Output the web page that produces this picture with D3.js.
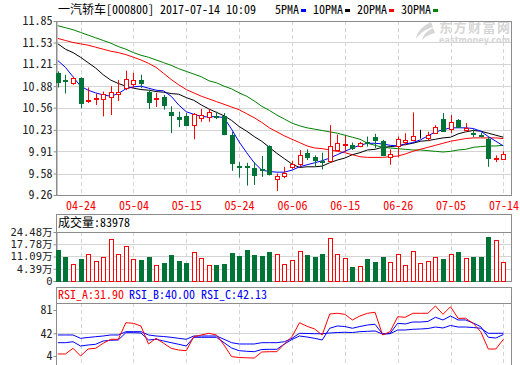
<!DOCTYPE html>
<html>
<head>
<meta charset="utf-8">
<script src="https://cdn.jsdelivr.net/npm/d3@7"></script>
<style>
  body { margin: 0; background: #fff; }
  text { font-family: "Noto Sans Mono CJK SC", "DejaVu Sans Mono", monospace; font-size: 12px; }
</style>
</head>
<body>
<script>
const dates = [
  "04-19","04-20","04-21","04-24","04-25","04-26","04-27","04-28",
  "05-02","05-03","05-04","05-05","05-08","05-09","05-10","05-11","05-12","05-15","05-16","05-17",
  "05-18","05-19","05-22","05-23","05-24","05-25","05-26","05-31",
  "06-01","06-02","06-05","06-06","06-07","06-08","06-09","06-12","06-13","06-14","06-15","06-16",
  "06-19","06-20","06-21","06-22","06-23","06-26","06-27","06-28","06-29","06-30",
  "07-03","07-04","07-05","07-06","07-07","07-10","07-11","07-12","07-13","07-14"
];
const xTicks = ["04-24","05-04","05-15","05-24","06-06","06-15","06-26","07-05","07-14"];
const priceTicks = [11.85, 11.53, 11.21, 10.88, 10.56, 10.23, 9.91, 9.58, 9.26];
const volTicks = [24.48, 17.78, 11.09, 4.39];
const volTickLabels = ["24.48万", "17.78万", "11.09万", "4.39万", "0"];
const rsiTicks = [81, 42, 4];

const open = [11.08,10.97,10.92,11.00,10.66,10.69,10.70,10.73,10.77,10.85,
  10.91,10.97,10.80,10.70,10.72,10.50,10.42,10.43,10.31,10.40,
  10.41,10.44,10.43,10.15,9.69,9.69,9.66,9.64,9.99,9.51,
  9.55,9.67,9.71,9.88,9.82,9.77,9.77,9.93,10.01,10.01,
  9.98,10.05,10.13,10.06,9.82,9.98,10.05,10.08,10.15,10.12,
  10.18,10.39,10.24,10.38,10.23,10.19,10.15,10.10,9.80,9.79];
const close = [10.95,10.95,11.00,10.63,10.68,10.70,10.77,10.80,10.80,10.98,
  10.97,10.93,10.65,10.71,10.60,10.45,10.39,10.30,10.47,10.45,
  10.49,10.43,10.16,9.73,9.68,9.68,9.56,9.63,9.58,9.55,
  9.59,9.72,9.85,9.82,9.77,9.76,9.99,10.03,10.02,9.96,
  10.03,10.03,10.08,9.85,9.87,10.09,10.08,10.14,10.15,10.16,
  10.27,10.21,10.34,10.28,10.26,10.18,10.13,9.82,9.81,9.87];
const high = [11.10,11.05,11.02,11.01,10.86,10.77,10.80,10.88,10.97,11.11,
  11.08,11.05,10.83,10.78,10.75,10.58,10.50,10.48,10.48,10.54,
  10.54,10.50,10.48,10.20,9.75,9.74,9.75,9.84,10.00,9.58,
  9.68,9.77,9.93,9.94,9.85,9.89,10.30,10.16,10.14,10.04,
  10.05,10.13,10.17,10.08,9.94,10.13,10.18,10.49,10.23,10.20,
  10.30,10.48,10.45,10.39,10.33,10.24,10.19,10.13,9.85,9.91];
const low = [10.86,10.77,10.90,10.55,10.63,10.60,10.43,10.45,10.66,10.82,
  10.85,10.85,10.54,10.57,10.53,10.18,10.27,10.29,10.09,10.35,
  10.35,10.39,10.15,9.62,9.52,9.40,9.41,9.53,9.55,9.32,
  9.51,9.65,9.68,9.78,9.68,9.64,9.74,9.92,9.90,9.93,
  9.97,9.98,9.96,9.84,9.71,9.82,10.00,10.06,10.10,10.06,
  10.17,10.20,10.18,10.26,10.20,10.12,10.12,9.68,9.75,9.78];
// volume in 万
const volume = [14.72,10.55,6.97,9.84,12.39,8.76,10.76,20.52,12.39,16.89,
  9.68,9.30,10.93,6.21,7.51,12.01,8.76,7.67,13.48,10.22,
  6.21,6.59,7.13,12.93,11.09,14.72,12.01,11.09,13.80,12.39,
  6.97,9.14,14.18,12.01,10.93,12.55,21.06,12.39,10.22,5.51,
  6.05,9.84,8.22,10.93,8.05,12.39,6.59,14.18,7.51,8.76,
  10.93,9.84,12.55,13.64,10.39,10.55,10.55,21.77,20.14,8.22];
const ma5 = [11.26,11.16,11.02,10.88,10.82,10.78,10.75,10.73,10.77,10.84,
  10.87,10.88,10.85,10.82,10.81,10.73,10.60,10.50,10.46,10.43,
  10.42,10.43,10.41,10.24,10.05,9.89,9.74,9.63,9.61,9.60,
  9.60,9.63,9.68,9.71,9.74,9.77,9.81,9.86,9.91,9.96,
  10.00,10.03,10.03,10.02,10.00,9.99,10.02,10.04,10.08,10.14,
  10.20,10.23,10.26,10.26,10.26,10.25,10.21,10.13,10.06,9.99];
const ma10 = [11.51,11.43,11.38,11.31,11.23,11.15,11.05,10.97,10.92,10.88,
  10.85,10.83,10.82,10.80,10.79,10.77,10.76,10.71,10.67,10.60,
  10.54,10.49,10.44,10.37,10.28,10.21,10.13,10.06,9.97,9.88,
  9.80,9.72,9.67,9.68,9.68,9.69,9.74,9.78,9.81,9.86,
  9.89,9.93,9.94,9.97,9.98,9.99,10.01,10.03,10.06,10.07,
  10.09,10.11,10.12,10.17,10.20,10.22,10.21,10.18,10.15,10.12];
const ma20 = [11.59,11.56,11.53,11.51,11.49,11.46,11.43,11.40,11.38,11.35,
  11.31,11.27,11.22,11.16,11.07,10.98,10.90,10.83,10.78,10.73,
  10.69,10.65,10.61,10.57,10.53,10.47,10.41,10.34,10.26,10.20,
  10.14,10.09,10.04,9.99,9.96,9.95,9.93,9.91,9.89,9.86,
  9.83,9.82,9.82,9.82,9.83,9.84,9.87,9.91,9.94,9.97,
  10.00,10.03,10.06,10.08,10.10,10.11,10.11,10.11,10.11,10.10];
const ma30 = [11.78,11.75,11.72,11.68,11.64,11.60,11.56,11.52,11.47,11.43,
  11.38,11.34,11.31,11.27,11.23,11.19,11.14,11.10,11.06,11.02,
  10.96,10.93,10.88,10.84,10.78,10.73,10.66,10.58,10.52,10.45,
  10.39,10.33,10.29,10.26,10.24,10.22,10.20,10.18,10.15,10.12,
  10.09,10.03,10.00,9.97,9.96,9.95,9.94,9.93,9.93,9.92,
  9.91,9.90,9.91,9.93,9.94,9.97,9.98,9.99,9.99,10.00];
const rsiA = [7.4,7.4,16.9,4.0,15.7,16.9,25.3,32.0,32.0,59.7,
  58.7,54.2,24.1,33.6,25.3,16.9,14.0,12.9,36.3,39.2,
  42.0,39.2,22.4,3.0,1.5,1.0,0.5,10.7,11.2,11.2,
  24.1,36.3,59.7,53.7,49.2,39.2,74.3,75.5,73.8,64.3,
  71.0,75.5,77.2,39.2,44.7,69.8,68.8,75.5,75.5,75.5,
  87.7,73.8,86.5,67.1,67.1,58.7,44.7,15.7,15.7,31.9];
const rsiB = [26.3,26.3,27.9,20.7,22.4,23.6,29.1,30.3,30.8,43.0,
  43.0,42.5,30.8,32.0,29.1,26.3,23.6,20.7,35.3,35.3,
  35.3,35.3,26.3,17.4,12.9,11.9,11.2,14.9,15.2,15.2,
  24.1,31.6,37.5,35.8,33.6,30.8,50.4,54.2,53.4,50.4,
  53.4,55.9,57.1,40.8,42.0,58.7,57.6,60.9,60.9,61.8,
  68.8,64.3,71.0,64.3,64.3,59.2,53.0,35.3,34.1,40.0];
const rsiC = [39.2,39.2,39.2,33.6,35.0,36.3,37.5,39.2,39.2,44.7,
  44.7,44.7,39.2,37.5,36.6,35.3,33.6,32.0,37.5,37.5,
  37.5,37.5,32.0,26.3,24.1,24.1,24.1,26.3,26.3,26.3,
  27.9,33.6,42.0,41.7,41.3,41.3,42.5,43.3,43.7,43.3,
  44.7,45.3,45.9,40.8,41.3,47.5,47.5,48.7,49.2,50.0,
  52.5,50.9,55.1,52.5,52.5,51.7,50.4,42.0,42.0,42.13];

const W = 520, H = 365;
const left = 56, right = 511;
const pTop = 21, pBottom = 195;
const vHead = 214, vTop = 232, vBottom = 281;
const rHead = 287, rTop = 303, rBottom = 364;
const frame = "#8c8c8c", grid = "#d4d4d4";
const red = "#ff0000", green = "#007436";

const svg = d3.select("body").append("svg").attr("width", W).attr("height", H);

const x = d3.scalePoint().domain(dates).range([57.9, 503.4]);
const y = d3.scaleLinear()
  .domain([priceTicks[priceTicks.length - 1], priceTicks[0]])
  .range([pBottom, pTop]);
const volStep = (volTicks[0] - volTicks[3]) / 3;
const yv = d3.scaleLinear().domain([volTicks[3] - volStep, volTicks[0]]).range([vBottom, vTop]);
const yr = d3.scaleLinear().domain([rsiTicks[2], rsiTicks[0]]).range([356, 310]);

svg.append("defs").append("clipPath").attr("id", "plot")
  .append("rect").attr("x", left).attr("y", pTop).attr("width", right - left).attr("height", pBottom - pTop);

// title + legend
svg.append("text").attr("x", 58).attr("y", 14).text("一汽轿车[000800] 2017-07-14 10:09");
const legend = [["5PMA", "#0000ff"], ["10PMA", "#000"], ["20PMA", red], ["30PMA", "#008000"]];
let lx = 275;
legend.forEach(([name, c]) => {
  const t = svg.append("text").attr("x", lx).attr("y", 14).text(name);
  const w = t.node().getComputedTextLength();
  svg.append("rect").attr("x", lx + w + 2).attr("y", 9).attr("width", 5).attr("height", 3).attr("fill", c);
  lx += w + 14;
});

// watermark
const wm = svg.append("g").attr("fill", "#d6d6d6");
wm.append("path").attr("d", "M431,22 C423,26 417,31 416,39 C420,33 426,29 433,27 Z M433,28 C427,31 423,35 422,40 C426,36 430,34 435,33 Z");
wm.append("text").attr("x", 439).attr("y", 31.5).attr("textLength", 71)
  .style("font-size", "13px").style("font-weight", "bold").text("东方财富网");
wm.append("text").attr("x", 439).attr("y", 43).attr("textLength", 71)
  .style("font-family", "DejaVu Sans").style("font-size", "8px").style("font-weight", "bold").text("eastmoney.com");

// horizontal grid
svg.append("g").selectAll("line").data(priceTicks.slice(1, -1)).join("line")
  .attr("x1", left).attr("x2", right)
  .attr("y1", (d) => Math.round(y(d)) + 0.5).attr("y2", (d) => Math.round(y(d)) + 0.5)
  .attr("stroke", grid);
svg.append("g").selectAll("line").data(volTicks.slice(1)).join("line")
  .attr("x1", left).attr("x2", right)
  .attr("y1", (d) => Math.round(yv(d)) + 0.5).attr("y2", (d) => Math.round(yv(d)) + 0.5)
  .attr("stroke", grid);
svg.append("line").attr("x1", left).attr("x2", right)
  .attr("y1", Math.round(yr(42)) + 0.5).attr("y2", Math.round(yr(42)) + 0.5).attr("stroke", grid);

// vertical dashed grid
[[pTop, pBottom], [vTop, vBottom], [rTop, rBottom]].forEach(([a, b]) => {
  svg.append("g").selectAll("line").data(xTicks).join("line")
    .attr("x1", (d) => Math.round(x(d)) + 0.5).attr("x2", (d) => Math.round(x(d)) + 0.5)
    .attr("y1", a).attr("y2", b)
    .attr("stroke", grid).attr("stroke-dasharray", "4,3");
});

// axes
function styleAxis(g) {
  g.attr("font-family", null).attr("font-size", null);
  g.select(".domain").attr("stroke", frame);
  g.selectAll(".tick line").attr("stroke", frame);
  g.selectAll(".tick text").attr("fill", "#222");
}
svg.append("g").attr("transform", `translate(${left + 0.5},0)`)
  .call(d3.axisLeft(y).tickValues(priceTicks).tickFormat(d3.format(".2f")).tickSize(3).tickSizeOuter(0).tickPadding(1))
  .call(styleAxis);
svg.append("g").attr("transform", `translate(${left + 0.5},0)`)
  .call(d3.axisLeft(yv).tickValues([...volTicks, yv.domain()[0]]).tickFormat((d, i) => volTickLabels[i]).tickSize(3).tickSizeOuter(0).tickPadding(1))
  .call(styleAxis)
  .call((g) => g.selectAll(".tick text").style("font-family", "'DejaVu Sans Mono', 'Noto Sans CJK SC'").style("font-size", "10.5px"));
svg.append("g").attr("transform", `translate(${left + 0.5},0)`)
  .call(d3.axisLeft(yr).tickValues(rsiTicks).tickSize(3).tickSizeOuter(0).tickPadding(1))
  .call(styleAxis)
  .call((g) => g.select(".domain").remove());
svg.append("g").attr("transform", `translate(0,${pBottom})`)
  .call(d3.axisBottom(x).tickValues(xTicks).tickSize(0).tickPadding(6))
  .call(styleAxis)
  .call((g) => g.select(".domain").remove())
  .call((g) => g.selectAll(".tick text").attr("fill", red));

// frames
const box = (x0, y0, x1, y1) => svg.append("rect")
  .attr("x", x0 + 0.5).attr("y", y0 + 0.5).attr("width", x1 - x0).attr("height", y1 - y0)
  .attr("fill", "none").attr("stroke", frame);
box(left, pTop, right, pBottom);
box(left, vHead, right, vBottom);
box(left, rHead, right, rBottom + 2);
svg.append("line").attr("x1", left).attr("x2", right).attr("y1", vTop + 0.5).attr("y2", vTop + 0.5).attr("stroke", frame);
svg.append("line").attr("x1", left).attr("x2", right).attr("y1", rTop + 0.5).attr("y2", rTop + 0.5).attr("stroke", frame);

// moving averages
const plot = svg.append("g").attr("clip-path", "url(#plot)");
const maLine = (vals) => d3.line().x((d, i) => x(dates[i])).y((d) => y(d))(vals);
[[ma30, "#008000"], [ma20, red], [ma10, "#000"], [ma5, "#0000ff"]].forEach(([vals, c]) => {
  plot.append("path").attr("d", maLine(vals)).attr("fill", "none").attr("stroke", c).attr("stroke-width", 1);
});

// candles
const candleColor = (i) => close[i] > open[i] ? red : close[i] < open[i] ? green : "#000";
const candles = plot.selectAll("g.candle").data(dates).join("g").attr("class", "candle");
candles.append("line")
  .attr("x1", (d) => Math.round(x(d)) + 0.5).attr("x2", (d) => Math.round(x(d)) + 0.5)
  .attr("y1", (d, i) => y(high[i])).attr("y2", (d, i) => y(low[i]))
  .attr("stroke", (d, i) => candleColor(i));
candles.append("rect")
  .attr("x", (d) => Math.round(x(d)) - 2 + 0.5)
  .attr("y", (d, i) => Math.round(y(Math.max(open[i], close[i]))) + 0.5)
  .attr("width", 4)
  .attr("height", (d, i) => Math.max(0, Math.round(Math.abs(y(open[i]) - y(close[i])))))
  .attr("fill", (d, i) => close[i] > open[i] ? "#fff" : candleColor(i))
  .attr("stroke", (d, i) => candleColor(i));

// volume header + bars
svg.append("text").attr("x", 58).attr("y", 227).text("成交量:83978");
svg.append("g").selectAll("rect").data(dates).join("rect")
  .attr("x", (d) => Math.round(x(d)) - 2 + 0.5)
  .attr("y", (d, i) => Math.round(yv(volume[i])) + 0.5)
  .attr("width", 4)
  .attr("height", (d, i) => vBottom - Math.round(yv(volume[i])))
  .attr("fill", (d, i) => close[i] >= open[i] ? "#fff" : green)
  .attr("stroke", (d, i) => close[i] >= open[i] ? red : green);

// RSI header + lines
[["RSI_A:31.90", red, 58], ["RSI_B:40.00", "#0000ff", 129], ["RSI_C:42.13", "#0000ff", 201]].forEach(([t, c, tx]) => {
  svg.append("text").attr("x", tx).attr("y", 299).attr("fill", c).text(t);
});
const rsiLine = d3.line().x((d, i) => x(dates[i])).y((d) => yr(d));
[[rsiC, "#0000ff"], [rsiB, "#0000ff"], [rsiA, red]].forEach(([vals, c]) => {
  svg.append("path").attr("d", rsiLine(vals)).attr("fill", "none").attr("stroke", c).attr("stroke-width", 1);
});
</script>
</body>
</html>
